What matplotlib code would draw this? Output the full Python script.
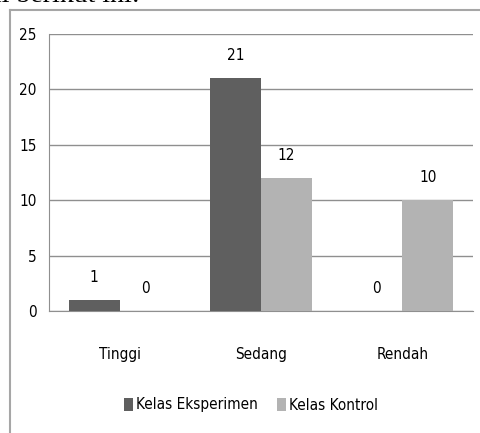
import matplotlib
matplotlib.use("Agg")
import matplotlib.pyplot as plt
from matplotlib.lines import Line2D

plt.rcParams['font.family'] = ['DejaVu Sans']
plt.rcParams['font.stretch'] = 'condensed'

kategori = ["Tinggi", "Sedang", "Rendah"]
eksperimen = [1, 21, 0]
kontrol = [0, 12, 10]
seri = ["Kelas Eksperimen", "Kelas Kontrol"]
yticks = [0, 5, 10, 15, 20, 25]

warna = ["#5f5f5f", "#b3b3b3"]
garis = "#8f8f8f"

fig = plt.figure(figsize=(4.81, 4.33), dpi=100)

# sisa teks dokumen di atas bingkai
fig.text(140 / 481, 1 - 2.5 / 433, "sebagai berikut ini:", family="Liberation Serif",
         fontsize=20, va="baseline", ha="right", color="black", stretch="normal")

# bingkai luar grafik
fig.add_artist(Line2D([10 / 481, 1], [1 - 10 / 433] * 2, transform=fig.transFigure,
                      color="#a6a6a6", lw=1.5))
fig.add_artist(Line2D([10 / 481] * 2, [0, 1 - 10 / 433], transform=fig.transFigure,
                      color="#a6a6a6", lw=1.5))

ax = fig.add_axes([49 / 481, (433 - 311) / 433, 424 / 481, (311 - 34) / 433])

x = list(range(len(kategori)))
w = 0.36
b1 = ax.bar([i - w / 2 for i in x], eksperimen, w, color=warna[0], label=seri[0], zorder=3)
b2 = ax.bar([i + w / 2 for i in x], kontrol, w, color=warna[1], label=seri[1], zorder=3)

for bars, vals in ((b1, eksperimen), (b2, kontrol)):
    for r, v in zip(bars, vals):
        ax.annotate(str(v), (r.get_x() + r.get_width() / 2, v), xytext=(0, 11),
                    textcoords="offset points", ha="center", va="bottom", fontsize=11)

ax.set_xlim(-0.5, 2.5)
ax.set_ylim(0, 25)
ax.set_yticks(yticks)
ax.set_xticks(x)
ax.set_xticklabels(kategori)
ax.yaxis.grid(True, color=garis, lw=1, zorder=0)
ax.tick_params(length=0, labelsize=11)
ax.tick_params(axis="y", pad=9)
ax.tick_params(axis="x", pad=26)
for s in ("top", "right"):
    ax.spines[s].set_visible(False)
for s in ("left", "bottom"):
    ax.spines[s].set_color(garis)

fig.legend(loc="center", bbox_to_anchor=(251 / 481, 1 - 405 / 433), ncol=2, frameon=False,
           handlelength=0.6, handleheight=0.9, handletextpad=0.2, columnspacing=1.2,
           fontsize=11)

fig.savefig("out.png", dpi=100)
